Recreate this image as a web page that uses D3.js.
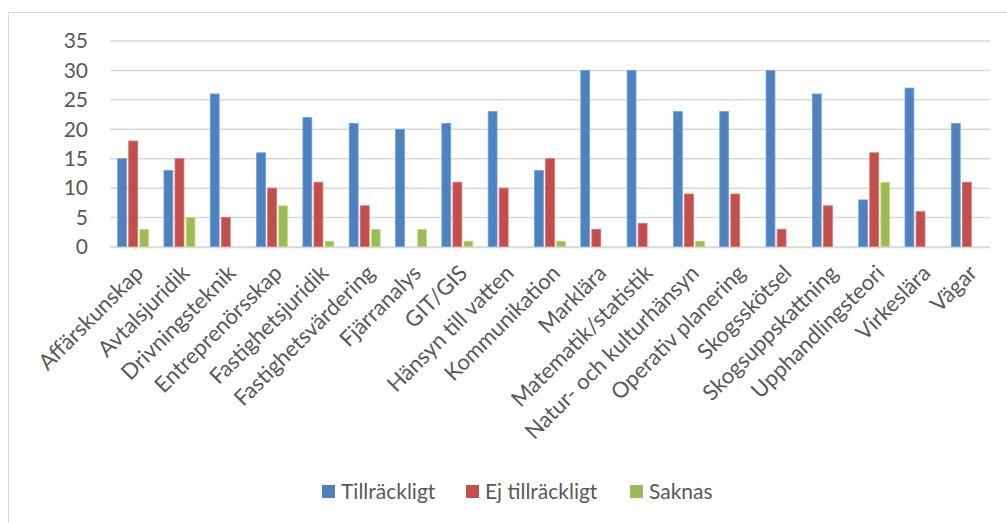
<!DOCTYPE html>
<html>
<head>
<meta charset="utf-8">
<script src="https://cdn.jsdelivr.net/npm/d3@7"></script>
<style>
  body { margin: 0; background: #fff; }
  text { font-family: Lato, "Open Sans", sans-serif; fill: #595959; }
</style>
</head>
<body>
<div id="chart"></div>
<script>
// data
let categories = ["Affärskunskap", "Avtalsjuridik", "Drivningsteknik", "Entreprenörsskap",
  "Fastighetsjuridik", "Fastighetsvärdering", "Fjärranalys", "GIT/GIS", "Hänsyn till vatten",
  "Kommunikation", "Marklära", "Matematik/statistik", "Natur- och kulturhänsyn",
  "Operativ planering", "Skogsskötsel", "Skogsuppskattning", "Upphandlingsteori",
  "Virkeslära", "Vägar"];
let seriesNames = ["Tillräckligt", "Ej tillräckligt", "Saknas"];
let tillrackligt   = [15, 13, 26, 16, 22, 21, 20, 21, 23, 13, 30, 30, 23, 23, 30, 26, 8, 27, 21];
let ejTillrackligt = [18, 15, 5, 10, 11, 7, 0, 11, 10, 15, 3, 4, 9, 9, 3, 7, 16, 6, 11];
let saknas         = [3, 5, 0, 7, 1, 3, 3, 1, 0, 1, 0, 0, 1, 0, 0, 0, 11, 0, 0];
let yTicks = [0, 5, 10, 15, 20, 25, 30, 35];
let colors = ["#4F81BD", "#C0504D", "#9BBB59"];

let svgWidth = 1007;
let svgHeight = 523;
let plotLeft = 110, plotRight = 990, plotTop = 41, plotBottom = 247;

let allSeries = [tillrackligt, ejTillrackligt, saknas];

let svg = d3.select("#chart").append("svg")
  .attr("width", svgWidth)
  .attr("height", svgHeight);

// chart frame
svg.append("rect")
  .attr("x", 8.5).attr("y", 12.5)
  .attr("width", 1010).attr("height", 530)
  .attr("fill", "none")
  .attr("stroke", "#d9d9d9");

//scales
let xScale = d3.scaleBand().domain(categories).range([plotLeft, plotRight]).paddingInner(0).paddingOuter(0);
let yScale = d3.scaleLinear().domain([0, 35]).range([plotBottom, plotTop]);
let inner = d3.scaleBand().domain([0, 1, 2]).range([0, 31]).paddingInner(0.2);

//gridlines
svg.append("g")
  .selectAll("line")
  .data(yTicks)
  .enter()
  .append("line")
  .attr("x1", plotLeft).attr("x2", plotRight)
  .attr("y1", d => yScale(d)).attr("y2", d => yScale(d))
  .attr("stroke", "#d9d9d9")
  .attr("stroke-width", 1.5);

//y axis
let yAxis = d3.axisLeft(yScale).tickValues(yTicks).tickSize(0).tickPadding(22);
let yG = svg.append("g").attr("transform", `translate(${plotLeft},0)`).call(yAxis);
yG.select(".domain").remove();
yG.selectAll("text").style("font-size", "21px").attr("fill", "#595959");

//bars
allSeries.forEach(function(vals, s) {
  svg.append("g")
    .selectAll("rect")
    .data(vals)
    .enter()
    .append("rect")
    .attr("x", (d, i) => xScale(categories[i]) + xScale.bandwidth() / 2 - 15.5 + inner(s))
    .attr("y", d => yScale(d))
    .attr("width", inner.bandwidth())
    .attr("height", d => plotBottom - yScale(d))
    .attr("fill", colors[s])
    .attr("stroke", d3.color(colors[s]).brighter(0.6))
    .attr("stroke-width", 0.8);
});

//x axis
let xAxis = d3.axisBottom(xScale).tickSize(0).tickPadding(0);
let xG = svg.append("g").attr("transform", `translate(0,${plotBottom})`).call(xAxis);
xG.select(".domain").attr("stroke", "#d9d9d9").attr("stroke-width", 1.5);
xG.selectAll("text")
  .style("font-size", "22px")
  .attr("fill", "#595959")
  .attr("text-anchor", "end")
  .attr("dy", "0.35em")
  .attr("transform", "translate(6,22) rotate(-45)");

//legend
let legendX = [322, 466, 630];
let legend = svg.append("g");
seriesNames.forEach(function(name, s) {
  legend.append("rect")
    .attr("x", legendX[s]).attr("y", 485)
    .attr("width", 13).attr("height", 13)
    .attr("fill", colors[s]);
  legend.append("text")
    .attr("x", legendX[s] + 19).attr("y", 499)
    .style("font-size", "21px")
    .text(name);
});
</script>
</body>
</html>
